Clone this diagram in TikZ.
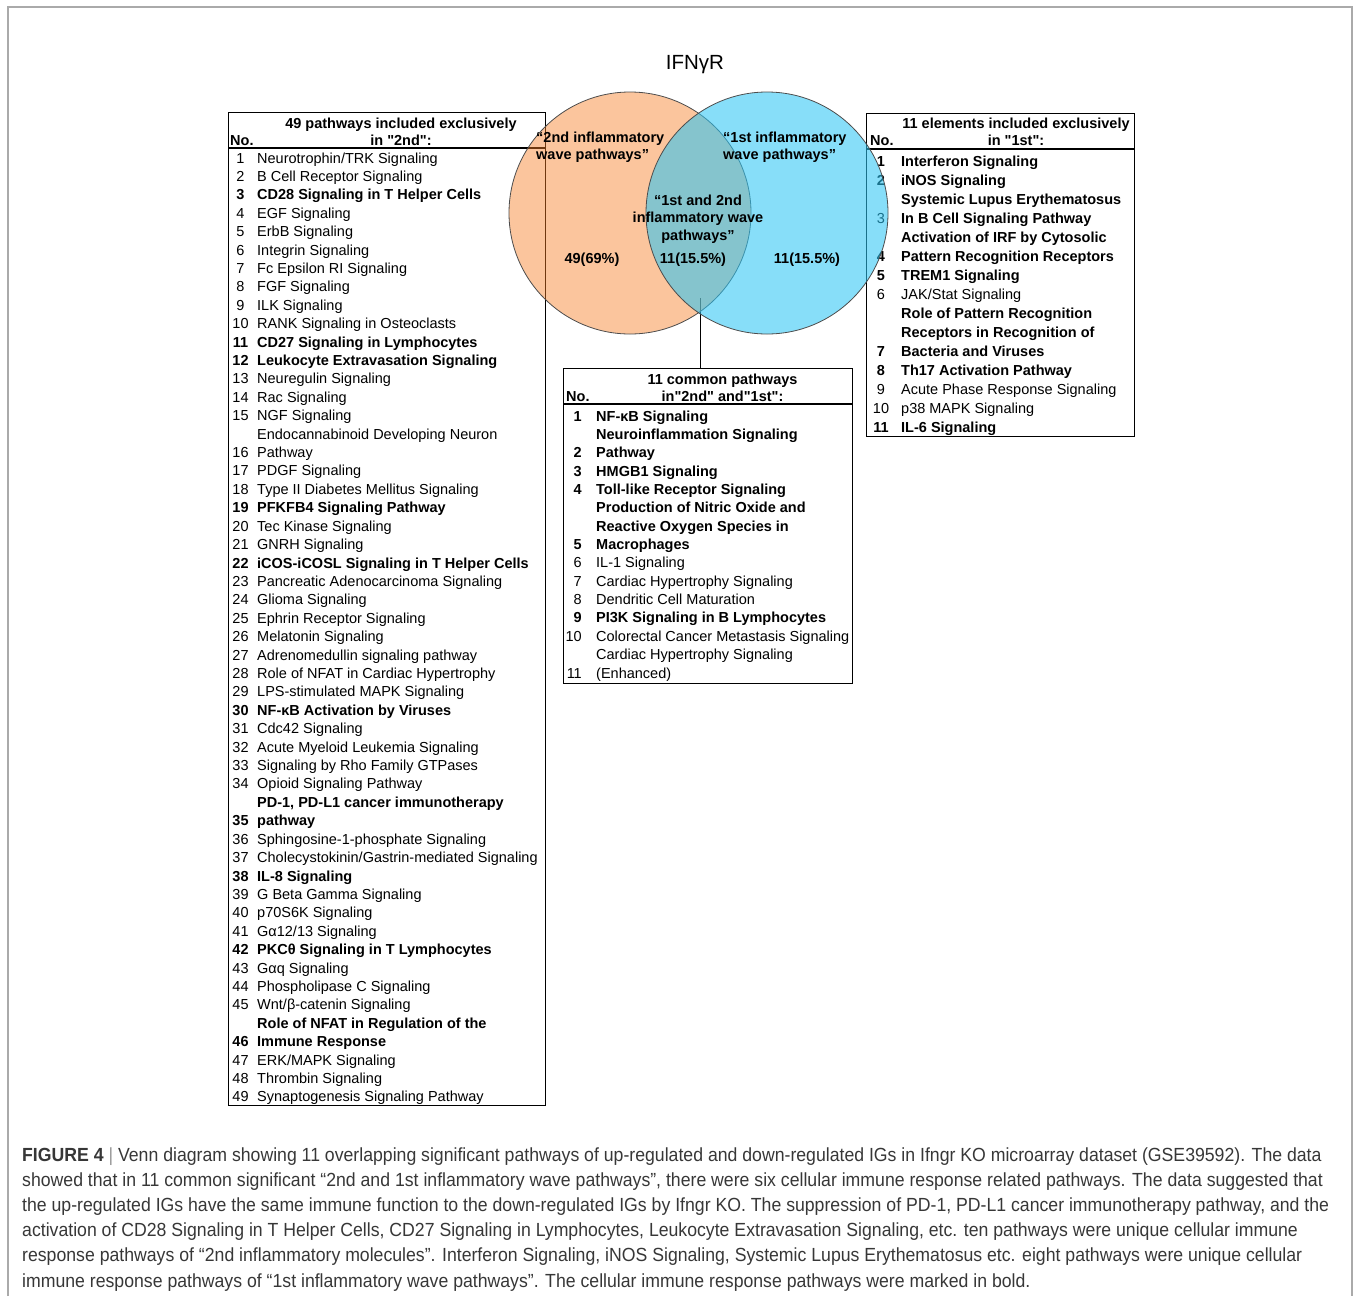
\documentclass[tikz,border=0pt]{standalone}
\usepackage{fontspec}
\setmainfont{Liberation Sans}[Ligatures=TeXOff]
\newfontfamily\capfont[FakeStretch=0.93]{Liberation Sans}
\usepackage{tikz}
\usetikzlibrary{positioning}

\definecolor{vennorange}{RGB}{246,126,37}
\definecolor{vennblue}{RGB}{44,197,244}
\definecolor{framegray}{RGB}{170,170,170}
\definecolor{capgray}{RGB}{55,55,55}
\definecolor{capbar}{RGB}{150,150,150}

\newcommand{\tabfont}{\fontsize{14.5}{17}\selectfont}

\begin{document}
\begin{tikzpicture}[x=1pt, y=-1pt,
  tabbox/.style={draw, line width=1.1pt, inner sep=0pt, anchor=north west},
  tabline/.style={line width=1.1pt},
  headtxt/.style={font=\tabfont\bfseries, inner sep=0pt, align=center, anchor=north},
  rowtxt/.style={font=\tabfont, inner sep=0pt, anchor=base west},
  rownum/.style={font=\tabfont, inner sep=0pt},
  bd/.style={font=\tabfont\bfseries},
  nm/.style={},
  vennlbl/.style={font=\fontsize{14.5}{17.5}\selectfont\bfseries, inner sep=0pt},
  capline/.style={font=\capfont\fontsize{19}{23}\selectfont, text=capgray, inner sep=0pt, anchor=base west}]

\useasboundingbox (0,0) rectangle (1356,1296);

%%%%% Frame %%%%%
\draw[framegray, line width=1.5pt] (8,1296) -- (8,7) -- (1352,7) -- (1352,1296);

%%%%% Left table %%%%%
\node (Lbox) [tabbox, minimum width=317pt, minimum height=993pt] at (228,112) {};
\draw[tabline] (228,148) -- (545,148);
\node (Lhead) [headtxt] at (401,117.4) {49 pathways included exclusively\\in "2nd":};
\node (Lno) [rowtxt, bd] at (230,145) {No.};
\foreach \n/\t/\s [count=\i from 0] in {1/{Neurotrophin/TRK Signaling}/nm, 2/{B Cell Receptor Signaling}/nm,
  3/{CD28 Signaling in T Helper Cells}/bd, 4/{EGF Signaling}/nm, 5/{ErbB Signaling}/nm,
  6/{Integrin Signaling}/nm, 7/{Fc Epsilon RI Signaling}/nm, 8/{FGF Signaling}/nm, 9/{ILK Signaling}/nm,
  10/{RANK Signaling in Osteoclasts}/nm, 11/{CD27 Signaling in Lymphocytes}/bd,
  12/{Leukocyte Extravasation Signaling}/bd, 13/{Neuregulin Signaling}/nm, 14/{Rac Signaling}/nm,
  15/{NGF Signaling}/nm, {}/{Endocannabinoid Developing Neuron}/nm, 16/{Pathway}/nm,
  17/{PDGF Signaling}/nm, 18/{Type II Diabetes Mellitus Signaling}/nm, 19/{PFKFB4 Signaling Pathway}/bd,
  20/{Tec Kinase Signaling}/nm, 21/{GNRH Signaling}/nm, 22/{iCOS-iCOSL Signaling in T Helper Cells}/bd,
  23/{Pancreatic Adenocarcinoma Signaling}/nm, 24/{Glioma Signaling}/nm, 25/{Ephrin Receptor Signaling}/nm,
  26/{Melatonin Signaling}/nm, 27/{Adrenomedullin signaling pathway}/nm,
  28/{Role of NFAT in Cardiac Hypertrophy}/nm, 29/{LPS-stimulated MAPK Signaling}/nm,
  30/{NF-κB Activation by Viruses}/bd, 31/{Cdc42 Signaling}/nm, 32/{Acute Myeloid Leukemia Signaling}/nm,
  33/{Signaling by Rho Family GTPases}/nm, 34/{Opioid Signaling Pathway}/nm,
  {}/{PD-1, PD-L1 cancer immunotherapy}/bd, 35/{pathway}/bd, 36/{Sphingosine-1-phosphate Signaling}/nm,
  37/{Cholecystokinin/Gastrin-mediated Signaling}/nm, 38/{IL-8 Signaling}/bd,
  39/{G Beta Gamma Signaling}/nm, 40/{p70S6K Signaling}/nm, 41/{Gα12/13 Signaling}/nm,
  42/{PKCθ Signaling in T Lymphocytes}/bd, 43/{Gαq Signaling}/nm, 44/{Phospholipase C Signaling}/nm,
  45/{Wnt/β-catenin Signaling}/nm, {}/{Role of NFAT in Regulation of the}/bd, 46/{Immune Response}/bd,
  47/{ERK/MAPK Signaling}/nm, 48/{Thrombin Signaling}/nm, 49/{Synaptogenesis Signaling Pathway}/nm}{
\node (Lnum\i) [rownum, \s, anchor=base] at (240.5,163+18.41*\i) {\n};
\node (Ltxt\i) [rowtxt, \s] at (257,163+18.41*\i) {\t};
}

%%%%% Middle table %%%%%
\node (Mbox) [tabbox, minimum width=289pt, minimum height=315pt] at (563,368) {};
\draw[tabline] (563,404) -- (852,404);
\node (Mhead) [headtxt] at (722.5,373.4) {11 common pathways\\in"2nd" and"1st":};
\node (Mno) [rowtxt, bd] at (566,401) {No.};
\foreach \n/\t/\s [count=\i from 0] in {1/{NF-κB Signaling}/bd, {}/{Neuroinflammation Signaling}/bd,
  2/{Pathway}/bd, 3/{HMGB1 Signaling}/bd, 4/{Toll-like Receptor Signaling}/bd,
  {}/{Production of Nitric Oxide and}/bd, {}/{Reactive Oxygen Species in}/bd, 5/{Macrophages}/bd,
  6/{IL-1 Signaling}/nm, 7/{Cardiac Hypertrophy Signaling}/nm, 8/{Dendritic Cell Maturation}/nm,
  9/{PI3K Signaling in B Lymphocytes}/bd, 10/{Colorectal Cancer Metastasis Signaling}/nm,
  {}/{Cardiac Hypertrophy Signaling}/nm, 11/{(Enhanced)}/nm}{
\node (Mnum\i) [rownum, \s, anchor=base east] at (582,421+18.36*\i) {\n};
\node (Mtxt\i) [rowtxt, \s] at (596,421+18.36*\i) {\t};
}

%%%%% Right table %%%%%
\node (Rbox) [tabbox, minimum width=268pt, minimum height=323pt] at (866,113) {};
\draw[tabline] (866,149) -- (1134,149);
\node (Rhead) [headtxt] at (1016,117.4) {11 elements included exclusively\\in "1st":};
\node (Rno) [rowtxt, bd] at (870,145) {No.};
\foreach \n/\t/\s [count=\i from 0] in {1/{Interferon Signaling}/bd, 2/{iNOS Signaling}/bd,
  {}/{Systemic Lupus Erythematosus}/bd, {\mdseries 3}/{In B Cell Signaling Pathway}/bd,
  {}/{Activation of IRF by Cytosolic}/bd, 4/{Pattern Recognition Receptors}/bd,
  5/{TREM1 Signaling}/bd, 6/{JAK/Stat Signaling}/nm, {}/{Role of Pattern Recognition}/bd,
  {}/{Receptors in Recognition of}/bd, 7/{Bacteria and Viruses}/bd, 8/{Th17 Activation Pathway}/bd,
  9/{Acute Phase Response Signaling}/nm, 10/{p38 MAPK Signaling}/nm, 11/{IL-6 Signaling}/bd}{
\node (Rnum\i) [rownum, \s, anchor=base] at (881,166+19.07*\i) {\n};
\node (Rtxt\i) [rowtxt, \s] at (901,166+19.07*\i) {\t};
}

%%%%% Venn %%%%%
\coordinate (lens) at (700,298);
\draw[tabline, line width=0.9pt] (lens) -- (lens |- Mbox.north);
\draw[fill=vennorange, fill opacity=0.45, draw=black!70, line width=0.8pt] (630,213) circle[radius=121];
\draw[fill=vennblue, fill opacity=0.57, draw=black!70, line width=0.8pt] (767,213) circle[radius=121];

\node (lbl2nd) [vennlbl, align=left, anchor=north west] at (536,131.5) {“2nd inflammatory\\wave pathways”};
\node (lbl1st) [vennlbl, align=left, anchor=north west] at (723,131.5) {“1st inflammatory\\wave pathways”};
\node (lblboth) [vennlbl, align=center, anchor=north] at (698,194.5) {“1st and 2nd\\inflammatory wave\\pathways”};
\node (cnt2nd) [vennlbl, anchor=base] at (592,263) {49(69\%)};
\node (cntboth) [vennlbl, anchor=base] at (693,263) {11(15.5\%)};
\node (cnt1st) [vennlbl, anchor=base] at (807,263) {11(15.5\%)};
\node (title) [font=\fontsize{20.5}{24}\selectfont, inner sep=0pt, anchor=base] at (695,69) {IFNγR};

%%%%% Caption %%%%%
\foreach \ln [count=\k from 0] in {{{\bfseries FIGURE 4} {\color{capbar}|} Venn diagram showing 11 overlapping significant pathways of up-regulated and down-regulated IGs in Ifngr KO microarray dataset (GSE39592). The data},
  {showed that in 11 common significant “2nd and 1st inflammatory wave pathways”, there were six cellular immune response related pathways. The data suggested that},
  {the up-regulated IGs have the same immune function to the down-regulated IGs by Ifngr KO. The suppression of PD-1, PD-L1 cancer immunotherapy pathway, and the},
  {activation of CD28 Signaling in T Helper Cells, CD27 Signaling in Lymphocytes, Leukocyte Extravasation Signaling, etc. ten pathways were unique cellular immune},
  {response pathways of “2nd inflammatory molecules”. Interferon Signaling, iNOS Signaling, Systemic Lupus Erythematosus etc. eight pathways were unique cellular},
  {immune response pathways of “1st inflammatory wave pathways”. The cellular immune response pathways were marked in bold.}}{
\node (cap\k) [capline] at (22,1161+25.2*\k) {\ln};
}
\end{tikzpicture}
\end{document}
